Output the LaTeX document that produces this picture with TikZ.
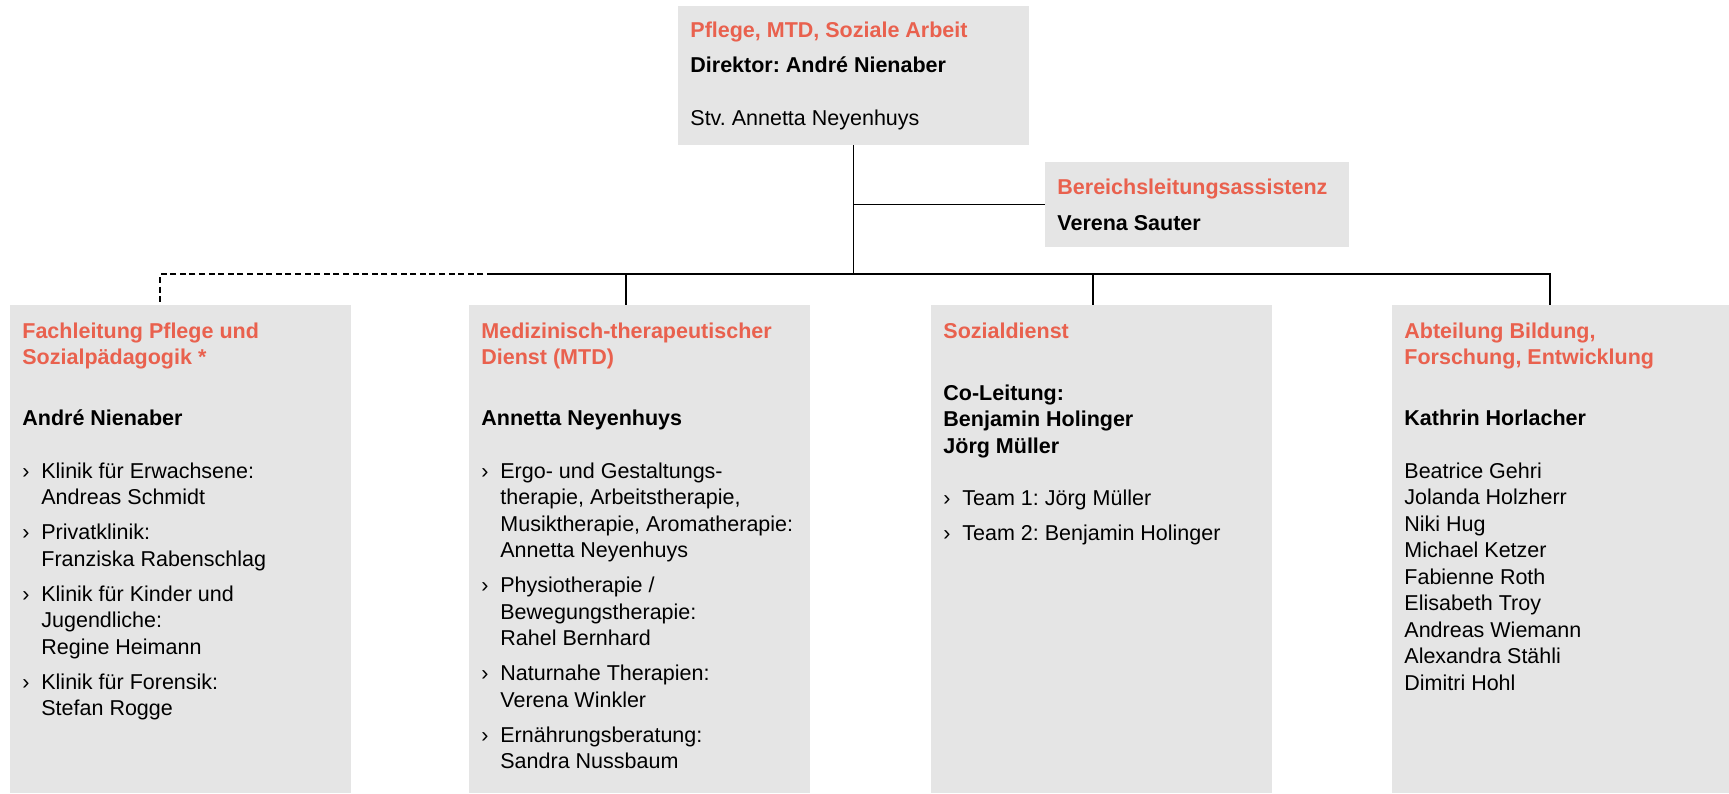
\documentclass[tikz,border=0pt]{standalone}
\usepackage{fontspec}
\setmainfont{Liberation Sans}
\frenchspacing
\definecolor{hdorange}{RGB}{233,97,78}
\definecolor{boxgray}{RGB}{229,229,229}
\newcommand{\orghead}[1]{\textcolor{hdorange}{\bfseries #1}}
\newcommand{\itemmark}{\makebox[9.5pt][l]{›}}
\newcommand{\itemind}{\makebox[9.5pt]{}}
\tikzset{
  box/.style={fill=boxgray, anchor=north west, inner sep=0pt, outer sep=0pt},
  % first baseline sits 10pt (20 units) below the node's top
  txt/.style={anchor=north west, align=left, inner sep=0pt, font=\fontsize{10.75}{13.25}\selectfont,
    execute at begin node=\rule{0pt}{10pt}},
  conn/.style={line width=0.65pt},
}
\begin{document}
\begin{tikzpicture}[x=0.5pt,y=-0.5pt]
    \useasboundingbox (0,0) rectangle (1729,793);
    % boxes
    \node[box, minimum width=175.5pt, minimum height=69.5pt] (pflege) at (678,6) {};
    \node[box, minimum width=152pt, minimum height=42.5pt] (assist) at (1045,162) {};
    \node[box, minimum width=170.5pt, minimum height=244pt] (fach) at (10,305) {};
    \node[box, minimum width=170.5pt, minimum height=244pt] (mtd) at (469,305) {};
    \node[box, minimum width=170.5pt, minimum height=244pt] (sozial) at (931,305) {};
    \node[box, minimum width=168.5pt, minimum height=244pt] (bildung) at (1392,305) {};
    % texts
    \node[txt] (pflegeT) at (690,22) {\orghead{Pflege, MTD, Soziale Arbeit}\\[4.25pt]\textbf{Direktor: André Nienaber}\\[13.25pt]Stv. Annetta Neyenhuys};
    \node[txt] (assistT) at (1057,178.5) {\orghead{Bereichsleitungsassistenz}\\[4.75pt]\textbf{Verena Sauter}};
    \node[txt] (fachT) at (22,322.5) {\orghead{Fachleitung Pflege und}\\\orghead{Sozialpädagogik *}\\[17.25pt]\textbf{André Nienaber}\\[13pt]%
      \itemmark Klinik für Erwachsene:\\\itemind Andreas Schmidt\\[4.25pt]%
      \itemmark Privatklinik:\\\itemind Franziska Rabenschlag\\[4.25pt]%
      \itemmark Klinik für Kinder und\\\itemind Jugendliche:\\\itemind Regine Heimann\\[4.25pt]%
      \itemmark Klinik für Forensik:\\\itemind Stefan Rogge};
    \node[txt] (mtdT) at (481,322.5) {\orghead{Medizinisch-therapeutischer}\\\orghead{Dienst (MTD)}\\[17.25pt]\textbf{Annetta Neyenhuys}\\[13pt]%
      \itemmark Ergo- und Gestaltungs-\\\itemind therapie, Arbeitstherapie,\\\itemind Musiktherapie, Aromatherapie:\\\itemind Annetta Neyenhuys\\[4.25pt]%
      \itemmark Physiotherapie /\\\itemind Bewegungstherapie:\\\itemind Rahel Bernhard\\[4.25pt]%
      \itemmark Naturnahe Therapien:\\\itemind Verena Winkler\\[4.25pt]%
      \itemmark Ernährungsberatung:\\\itemind Sandra Nussbaum};
    \node[txt] (sozialT) at (943,322.5) {\orghead{Sozialdienst}\\[17.75pt]\textbf{Co-Leitung:}\\\textbf{Benjamin Holinger}\\\textbf{Jörg Müller}\\[12.75pt]%
      \itemmark Team 1: Jörg Müller\\[4.25pt]%
      \itemmark Team 2: Benjamin Holinger};
    \node[txt] (bildungT) at (1404,322.5) {\orghead{Abteilung Bildung,}\\\orghead{Forschung, Entwicklung}\\[17.25pt]\textbf{Kathrin Horlacher}\\[13pt]%
      Beatrice Gehri\\Jolanda Holzherr\\Niki Hug\\Michael Ketzer\\Fabienne Roth\\Elisabeth Troy\\Andreas Wiemann\\Alexandra Stähli\\Dimitri Hohl};
    % lines
    \coordinate (busL) at (493,274);
    \coordinate (b1) at (160,274);
    \coordinate (b2) at (626,274);
    \coordinate (b3) at (1093,274);
    \coordinate (b4) at (1550,274);
    \draw[conn] (pflege.south) -- (pflege.south |- busL);
    \draw[conn] (pflege.south |- assist.west) -- (assist.west);
    \draw[conn] (busL) -- (b4) -- (b4 |- bildung.north);
    \foreach \b/\n in {b2/mtd,b3/sozial}
      \draw[conn] (\b) -- (\b |- \n.north);
    \draw[conn, dash pattern=on 3pt off 1.8pt] (busL) -- (b1) -- (b1 |- fach.north);
\end{tikzpicture}
\end{document}
